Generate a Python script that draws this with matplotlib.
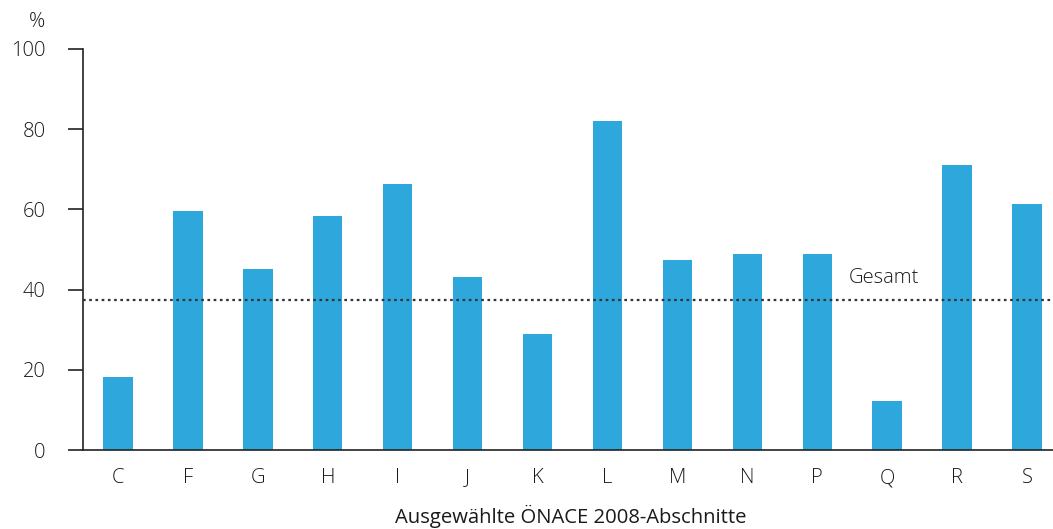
import matplotlib
matplotlib.use("Agg")
import matplotlib.pyplot as plt
import numpy as np

categories = ["C", "F", "G", "H", "I", "J", "K", "L", "M", "N", "P", "Q", "R", "S"]
values = [18.2, 59.6, 45.1, 58.4, 66.3, 43.1, 28.9, 82.0, 47.4, 48.9, 48.9, 12.2, 71.1, 61.3]
gesamt = 37.4
y_ticks = [0, 20, 40, 60, 80, 100]

plt.rcParams['font.family'] = ['Open Sans', 'DejaVu Sans']
plt.rcParams['font.weight'] = 'light'
text_color = '#1a1a1a'

fig = plt.figure(figsize=(10.53, 5.29), dpi=100)
ax = fig.add_axes([83/1053, 1 - 450/529, 979/1053, (450-49)/529])

x = np.arange(len(categories))
ax.bar(x, values, width=0.42, color='#2EA7DC', zorder=2)
ax.axhline(gesamt, color='#333333', linestyle=(0, (1.2, 1.6)), linewidth=1.6, zorder=3)
ax.text(10.45, gesamt + 2.9, "Gesamt", fontsize=14.5, color=text_color, va='bottom', ha='left')

ax.set_xlim(-0.5, len(categories) - 0.5)
ax.set_ylim(0, 100)
ax.set_yticks(y_ticks)
ax.set_yticklabels([str(t) for t in y_ticks], fontsize=14.5, color=text_color)
ax.set_xticks(x)
ax.set_xticklabels(categories, fontsize=14.5, color=text_color)
ax.tick_params(axis='x', length=0, pad=13)
ax.tick_params(axis='y', length=11, width=1.2, color='#222222', pad=16)

for s in ['top', 'right']:
    ax.spines[s].set_visible(False)
ax.spines['left'].set_color('#222222')
ax.spines['left'].set_linewidth(1.2)
ax.spines['bottom'].set_color('#222222')
ax.spines['bottom'].set_linewidth(1.2)

ax.set_xlabel("Ausgewählte ÖNACE 2008-Abschnitte", fontsize=14.6, color=text_color)
ax.xaxis.set_label_coords((571 - 83) / 979, -0.136)
fig.text(37/1053, 1 - 22/529, "%", fontsize=14.5, color=text_color, ha='center', va='center')

fig.savefig("out.png", dpi=100)
